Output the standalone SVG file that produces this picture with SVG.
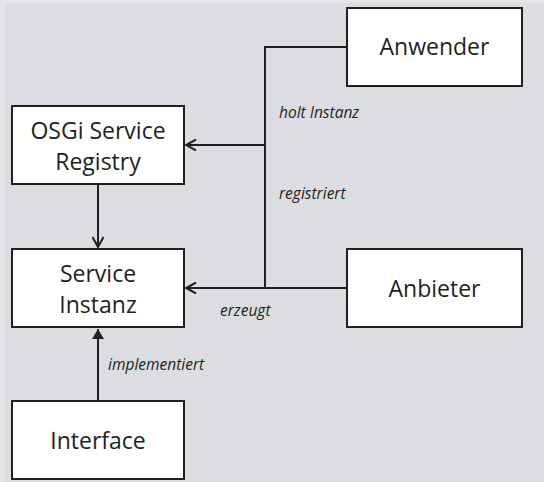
<svg xmlns="http://www.w3.org/2000/svg" width="544" height="482" viewBox="0 0 544 482">
<style>
.box{fill:#fff;stroke:#231f20;stroke-width:2}
.lbl{font-family:"Open Sans","Noto Sans",sans-serif;font-size:23px;fill:#231f20;text-anchor:middle}
.it{font-family:"Open Sans","Noto Sans",sans-serif;font-size:15.5px;font-style:italic;fill:#231f20}
.ln{fill:none;stroke:#231f20;stroke-width:2}
</style>
<defs>
<marker id="open" viewBox="0 0 12 12" refX="11" refY="6" markerWidth="12" markerHeight="12" markerUnits="userSpaceOnUse" orient="auto">
<path d="M1,0.5 L11,6 L1,11.5" fill="none" stroke="#231f20" stroke-width="2"/>
</marker>
<marker id="tri" viewBox="0 0 12 12" refX="10" refY="6" markerWidth="12" markerHeight="12" markerUnits="userSpaceOnUse" orient="auto">
<path d="M10,6 L0,0 L0,12 Z" fill="#231f20"/>
</marker>
</defs>
<rect x="0" y="0" width="544" height="482" fill="#e4e5e7"/>
<rect x="5" y="3" width="539" height="479" fill="#dcdde0"/>
<g id="connectors">
<path class="ln" d="M347,47 H265 V288"/>
<path class="ln" d="M265,145 H186" marker-end="url(#open)"/>
<path class="ln" d="M347,288 H186" marker-end="url(#open)"/>
<path class="ln" d="M98,184 V247" marker-end="url(#open)"/>
<path class="ln" d="M98,401 V329" marker-end="url(#tri)"/>
<text class="it" x="279" y="118">holt Instanz</text>
<text class="it" x="279" y="199">registriert</text>
<text class="it" x="220" y="316">erzeugt</text>
<text class="it" x="108" y="370">implementiert</text>
</g>
<g id="anwender"><rect class="box" x="347" y="8" width="175" height="78"/><text class="lbl" x="434.5" y="55">Anwender</text></g>
<g id="registry"><rect class="box" x="12" y="106" width="172" height="78"/><text class="lbl" x="98" y="139">OSGi Service</text><text class="lbl" x="98" y="170">Registry</text></g>
<g id="instanz"><rect class="box" x="12" y="249" width="172" height="78"/><text class="lbl" x="98" y="282">Service</text><text class="lbl" x="98" y="313">Instanz</text></g>
<g id="anbieter"><rect class="box" x="347" y="249" width="175" height="78"/><text class="lbl" x="434.5" y="297">Anbieter</text></g>
<g id="interface"><rect class="box" x="12" y="401" width="172" height="78"/><text class="lbl" x="98" y="449">Interface</text></g>
</svg>
